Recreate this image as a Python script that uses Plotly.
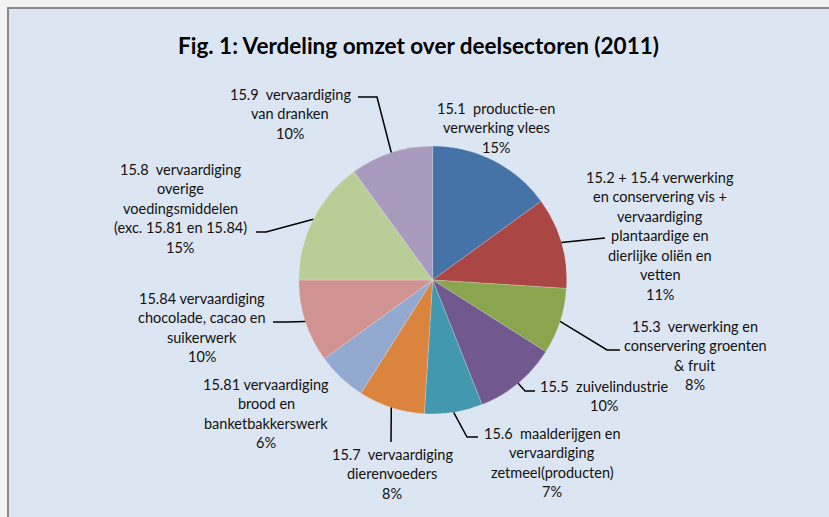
import plotly.graph_objects as go
import math

W, H = 829, 517

labels = [
    "15.1\u00a0 productie-en<br>verwerking vlees",
    "15.2 + 15.4 verwerking<br>en conservering vis +<br>vervaardiging<br>plantaardige en<br>dierlijke oliën en<br>vetten",
    "15.3\u00a0 verwerking en<br>conservering groenten<br>& fruit",
    "15.5\u00a0 zuivelindustrie",
    "15.6\u00a0 maalderijgen en<br>vervaardiging<br>zetmeel(producten)",
    "15.7\u00a0 vervaardiging<br>dierenvoeders",
    "15.81 vervaardiging<br>brood en<br>banketbakkerswerk",
    "15.84 vervaardiging<br>chocolade, cacao en<br>suikerwerk",
    "15.8\u00a0 vervaardiging<br>overige<br>voedingsmiddelen<br>(exc. 15.81 en 15.84)",
    "15.9\u00a0 vervaardiging<br>van dranken",
]
values = [15, 11, 8, 10, 7, 8, 6, 10, 15, 10]
colors = ["#4572A7", "#AA4643", "#89A54E", "#71588F", "#4198AF",
          "#DB843D", "#93A9CF", "#D19392", "#B9CD96", "#A99BBD"]
title = "Fig. 1: Verdeling omzet over deelsectoren (2011)"

# label layout: pixel centre x and y of first text line; leader-line elbow points
label_pos = [(496, 108), (660, 177), (695, 326), (604, 386), (552, 433),
             (392, 454), (266, 384), (202, 298), (180, 169), (290, 94)]
leader_pts = [None,
              [(605, 238)],
              [(607, 350), (620, 350)],
              [(525, 391), (535, 391)],
              [(467, 437), (478, 437)],
              [(391, 442)],
              None,
              [(287, 322), (273, 322)],
              [(266, 232), (256, 232)],
              [(377, 97), (358, 97)]]
LINE_H = 19.5

cx, cy, r = 432.7, 280, 134

def px(x):
    return x / W

def py(y):
    return 1 - y / H

fig = go.Figure()
fig.add_trace(go.Pie(
    values=values,
    labels=[l.replace("<br>", " ") for l in labels],
    sort=False,
    direction="clockwise",
    rotation=0,
    textinfo="none",
    hoverinfo="label+percent",
    marker=dict(colors=colors, line=dict(color="rgba(255,255,255,0.35)", width=0.6)),
    domain=dict(x=[px(cx - r), px(cx + r)], y=[py(cy + r), py(cy - r)]),
    showlegend=False,
))

shapes = [dict(type="rect", xref="paper", yref="paper",
               x0=px(8), y0=py(H + 10), x1=px(W + 10), y1=py(8),
               fillcolor="#DCE6F2", line=dict(color="#8a8a8a", width=2),
               layer="below")]

annotations = []
total = sum(values)
cum = 0
for i, v in enumerate(values):
    mid = (cum + v / 2) / total
    cum += v
    ang = 2 * math.pi * mid
    ax_ = cx + r * math.sin(ang)
    ay_ = cy - r * math.cos(ang)
    pct = round(100 * v / total)
    lx, ly = label_pos[i]
    lines = labels[i].split("<br>") + [f"{pct}%"]
    for k, line in enumerate(lines):
        annotations.append(dict(
            x=px(lx), y=py(ly + k * LINE_H), xref="paper", yref="paper",
            text=line, showarrow=False,
            xanchor="center", yanchor="middle", align="center",
            font=dict(family="Lato", size=14.5, color="#111111")))
    if leader_pts[i]:
        pts = [(ax_, ay_)] + leader_pts[i]
        path = "M " + " L ".join(f"{px(x):.5f},{py(y):.5f}" for x, y in pts)
        shapes.append(dict(type="path", xref="paper", yref="paper", path=path,
                           line=dict(color="#000000", width=1.5)))

annotations.append(dict(
    x=px(418), y=py(46), xref="paper", yref="paper",
    text=f"<b>{title}</b>",
    showarrow=False, xanchor="center", yanchor="middle",
    font=dict(family="Lato", size=22.5, color="#000000")))

fig.update_layout(
    width=W, height=H,
    margin=dict(l=0, r=0, t=0, b=0),
    paper_bgcolor="#f2f2f2",
    shapes=shapes,
    annotations=annotations,
)

fig.write_html("out.html", config={"displayModeBar": False},
               post_script="document.body.style.margin='0';")
